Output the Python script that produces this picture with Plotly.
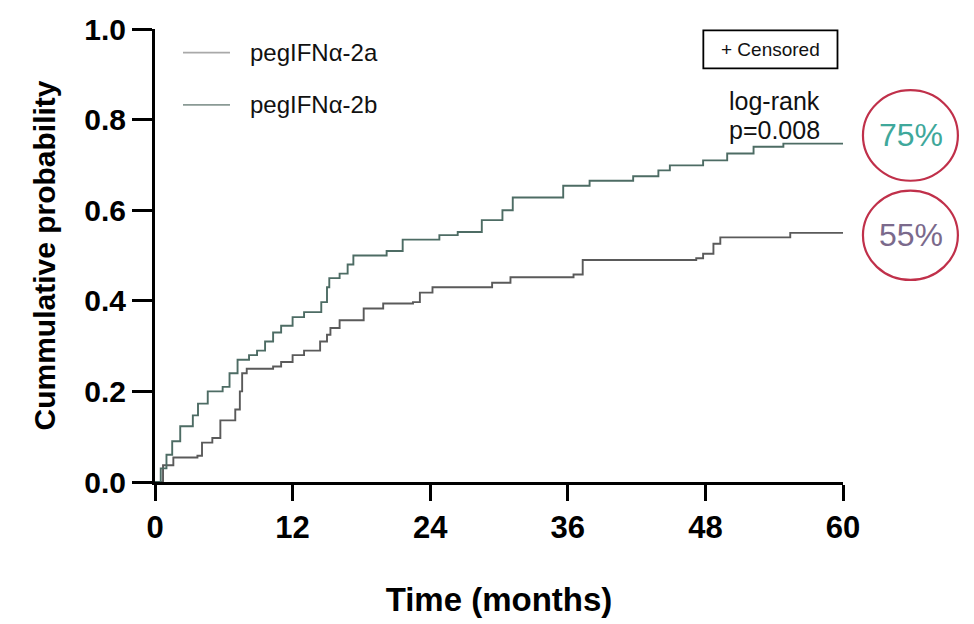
import plotly.graph_objects as go

# Cumulative probability step data (months, probability)
t_2a = [0, 0.7, 1.6, 3.7, 4.1, 5.0, 5.7, 7.0, 7.4, 7.6, 8.0, 10.3, 11.0, 12.0, 13.0, 14.4, 15.0, 15.3, 16.1,
        18.2, 19.9, 22.5, 23.1, 24.2, 29.4, 31.0, 36.5, 37.3, 47.2, 47.8, 48.7, 49.3, 55.4, 60]
p_2a = [0, 0.037, 0.054, 0.058, 0.087, 0.097, 0.136, 0.16, 0.2, 0.24, 0.25, 0.255, 0.265, 0.28, 0.29, 0.31, 0.325,
        0.34, 0.357, 0.383, 0.394, 0.397, 0.418, 0.43, 0.44, 0.452, 0.458, 0.49, 0.494, 0.504, 0.526, 0.54, 0.55, 0.55]

t_2b = [0, 0.5, 1.0, 1.5, 2.2, 3.3, 3.75, 4.6, 5.9, 6.5, 7.2, 8.2, 8.9, 9.6, 10.3, 11.0, 12.0, 13.0, 14.5, 15.0,
        15.2, 16.1, 16.8, 17.3, 20.2, 21.6, 24.8, 26.4, 28.5, 30.3, 31.2, 35.6, 37.9, 41.7, 43.9, 44.9, 47.8,
        49.9, 52.2, 54.8, 60]
p_2b = [0, 0.03, 0.06, 0.09, 0.123, 0.147, 0.173, 0.2, 0.21, 0.24, 0.27, 0.28, 0.29, 0.31, 0.33, 0.345, 0.364,
        0.375, 0.397, 0.43, 0.45, 0.46, 0.48, 0.5, 0.51, 0.535, 0.545, 0.552, 0.578, 0.6, 0.628, 0.654, 0.665,
        0.675, 0.688, 0.699, 0.71, 0.725, 0.74, 0.747, 0.747]

series_names = ["pegIFNα-2a", "pegIFNα-2b"]
final_labels = ["55%", "75%"]
x_ticks = [0, 12, 24, 36, 48, 60]
y_ticks = [0.0, 0.2, 0.4, 0.6, 0.8, 1.0]

col_2a = "#5a5a5a"
col_2b = "#4d6c64"
leg_2a = "#a9a9a9"
leg_2b = "#8a9a95"

fig = go.Figure()
fig.add_trace(go.Scatter(x=t_2a, y=p_2a, mode="lines", line=dict(color=col_2a, width=1.9, shape="hv"),
                         name=series_names[0], showlegend=False, cliponaxis=False))
fig.add_trace(go.Scatter(x=t_2b, y=p_2b, mode="lines", line=dict(color=col_2b, width=1.9, shape="hv"),
                         name=series_names[1], showlegend=False, cliponaxis=False))

font = "Liberation Sans, Arial, sans-serif"

shapes = []
annotations = []
# manual legend
for name, yy, c in [(series_names[0], 0.948, leg_2a), (series_names[1], 0.8326, leg_2b)]:
    shapes.append(dict(type="line", xref="paper", yref="paper", x0=0.0407, x1=0.109, y0=yy, y1=yy,
                       line=dict(color=c, width=1.8)))
    annotations.append(dict(xref="paper", yref="paper", x=0.135, y=yy, text=name, showarrow=False,
                            xanchor="left", yanchor="middle", font=dict(family=font, size=24, color="#111")))

# censored box
shapes.append(dict(type="rect", xref="paper", yref="paper", x0=0.797, x1=0.992, y0=0.913, y1=0.997,
                   line=dict(color="black", width=1.8), fillcolor="white"))
annotations.append(dict(xref="paper", yref="paper", x=0.894, y=0.955, text="+ Censored", showarrow=False,
                        xanchor="center", yanchor="middle", font=dict(family=font, size=19, color="#111")))
annotations.append(dict(xref="paper", yref="paper", x=0.901, y=0.84, text="log-rank", showarrow=False,
                        xanchor="center", yanchor="middle", font=dict(family=font, size=25, color="#111")))
annotations.append(dict(xref="paper", yref="paper", x=0.901, y=0.778, text="p=0.008", showarrow=False,
                        xanchor="center", yanchor="middle", font=dict(family=font, size=25, color="#111")))

# circles with final percentages
for (y0, y1, txt, c) in [(0.665, 0.865, final_labels[1], "#3fa89b"), (0.446, 0.643, final_labels[0], "#7b6a8c")]:
    shapes.append(dict(type="circle", xref="paper", yref="paper", x0=1.029, x1=1.167, y0=y0, y1=y1,
                       line=dict(color="#c0304a", width=2.2)))
    annotations.append(dict(xref="paper", yref="paper", x=1.099, y=(y0 + y1) / 2, text=txt, showarrow=False,
                            xanchor="center", yanchor="middle", font=dict(family=font, size=32, color=c)))

fig.update_layout(
    width=974, height=624,
    margin=dict(l=155, r=131, t=23, b=141),
    plot_bgcolor="white", paper_bgcolor="white",
    shapes=shapes, annotations=annotations,
    xaxis=dict(range=[0, 60], tickvals=x_ticks, ticktext=[str(v) for v in x_ticks],
               showline=True, linecolor="black", linewidth=3, ticks="outside", ticklen=16, tickwidth=3,
               tickcolor="black", showgrid=False, zeroline=False,
               tickfont=dict(family=font, size=31, color="black", weight="bold"),
               title=dict(text="Time (months)", font=dict(family=font, size=33, color="black", weight="bold"),
                          standoff=44)),
    yaxis=dict(range=[0, 1], tickvals=y_ticks, ticktext=[f"{v:.1f}" for v in y_ticks],
               showline=True, linecolor="black", linewidth=3, ticks="outside", ticklen=20, tickwidth=3,
               tickcolor="black", showgrid=False, zeroline=False,
               tickfont=dict(family=font, size=30, color="black", weight="bold"),
               title=dict(text="Cummulative probability", font=dict(family=font, size=30, color="black", weight="bold"),
                          standoff=20)),
)

fig.write_html("out.html")
